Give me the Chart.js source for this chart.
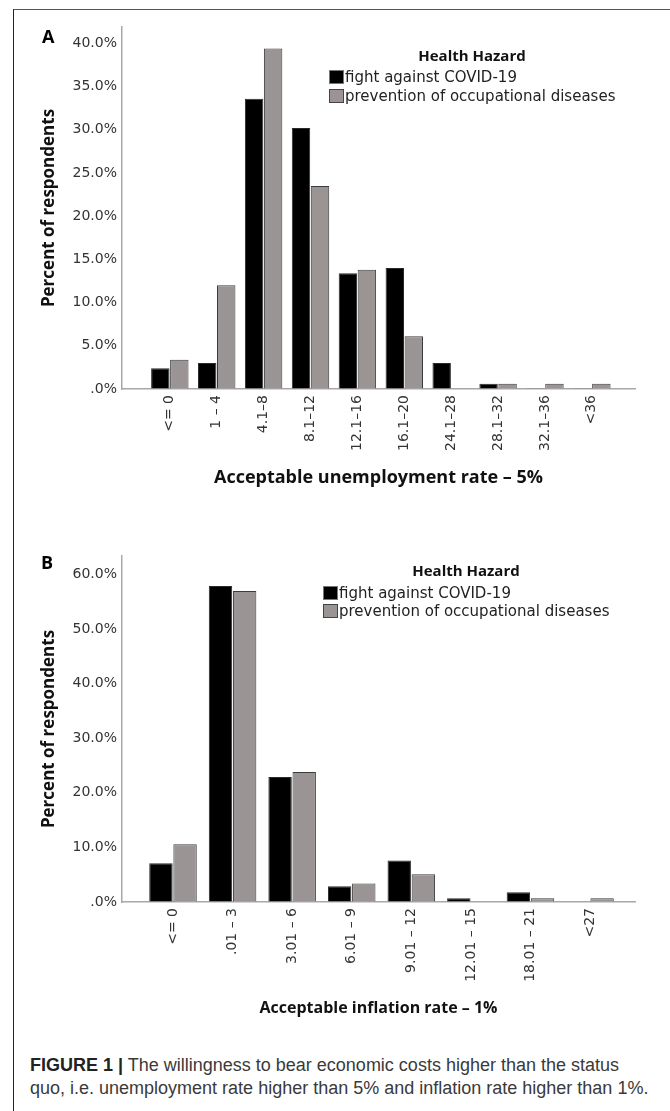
<!DOCTYPE html>
<html><head><meta charset="utf-8">
<script src="https://cdn.jsdelivr.net/npm/chart.js@4.4.1/dist/chart.umd.min.js"></script>
<style>
html,body{margin:0;padding:0;background:#fff;}
body{width:670px;height:1111px;position:relative;overflow:hidden;font-family:'Open Sans',sans-serif;}
#frame{position:absolute;left:13px;top:9px;width:700px;height:1200px;border-top:1.5px solid #555;border-left:1.5px solid #222;}
canvas{position:absolute;left:0;}
.abs{position:absolute;white-space:nowrap;}
.panel{font:bold 18px 'Open Sans',sans-serif;color:#000;line-height:18px;}
.lgTitle{font:bold 15px 'Open Sans',sans-serif;color:#111;transform:translate(-50%,-50%);}
.lgBox{width:13px;height:12px;border:1px solid #555;}
.lgText{font:15px 'DejaVu Sans',sans-serif;color:#222;transform:translateY(-50%);}
#caption{left:30px;top:1054px;font:18px 'Liberation Sans',Arial,sans-serif;color:#3a3a3a;line-height:23px;letter-spacing:0px;}
#caption b{color:#222;}
</style></head>
<body>
<div id="frame"></div>
<canvas id="cA" width="670" height="489" style="top:0;width:670px;height:489px"></canvas>
<canvas id="cB" width="670" height="498" style="top:520px;width:670px;height:498px"></canvas>
<div class="abs panel" style="left:42px;top:27px">A</div>
<div class="abs panel" style="left:41px;top:553px">B</div>
<div id="legA"></div>
<div id="legB"></div>
<div id="caption" class="abs"><b>FIGURE 1 |</b> The willingness to bear economic costs higher than the status<br>quo, i.e. unemployment rate higher than 5% and inflation rate higher than 1%.</div>
<script>
// ---- data ----
const seriesNames = ['fight against COVID-19', 'prevention of occupational diseases'];
const legendTitle = 'Health Hazard';

const categoriesA = ['<= 0', '1 – 4', '4.1–8', '8.1–12', '12.1–16', '16.1–20', '24.1–28', '28.1–32', '32.1–36', '<36'];
const covidA = [2.4, 3.0, 33.6, 30.2, 13.4, 14.0, 3.0, 0.6, 0.1, 0.1];
const occupationalA = [3.4, 12.0, 39.4, 23.5, 13.8, 6.1, 0.1, 0.6, 0.6, 0.6];
const yTickValuesA = [0, 5, 10, 15, 20, 25, 30, 35, 40];
const yTickLabelsA = ['.0%', '5.0%', '10.0%', '15.0%', '20.0%', '25.0%', '30.0%', '35.0%', '40.0%'];

const categoriesB = ['<= 0', '.01 – 3', '3.01 – 6', '6.01 – 9', '9.01 – 12', '12.01 – 15', '18.01 – 21', '<27'];
const covidB = [7.1, 57.9, 22.9, 2.9, 7.6, 0.7, 1.8, 0.1];
const occupationalB = [10.6, 57.0, 23.8, 3.4, 5.1, 0.1, 0.7, 0.7];
const yTickValuesB = [0, 10, 20, 30, 40, 50, 60];
const yTickLabelsB = ['.0%', '10.0%', '20.0%', '30.0%', '40.0%', '50.0%', '60.0%'];

const yTitle = 'Percent of respondents';
const xTitleA = 'Acceptable unemployment rate – 5%';
const xTitleB = 'Acceptable inflation rate – 1%';

// ---- styles ----
const colors = ['#000000', '#9a9494'];
const borders = ['#2a2a2a', '#3c3c3c'];
const tickFont = {family: "'DejaVu Sans', sans-serif", size: 14};
const tickColor = '#333';
const axisColor = '#a8a8a8';

function makeChart(id, cfg) {
  const canvas = document.getElementById(id);
  const ds = [cfg.s1, cfg.s2].map((vals, k) => ({
    label: seriesNames[k],
    data: vals.map((v, i) => ({x: i, y: v})),
    backgroundColor: colors[k],
    borderColor: borders[k],
    borderWidth: 1,
    categoryPercentage: 0.81,
    barPercentage: 0.97
  }));
  return new Chart(canvas, {
    type: 'bar',
    data: {datasets: ds},
    options: {
      responsive: false,
      animation: false,
      devicePixelRatio: 1,
      layout: {padding: {left: 39, right: 35, top: cfg.padTop, bottom: 0}},
      plugins: {legend: {display: false}, tooltip: {enabled: false}},
      scales: {
        x: {
          type: 'linear',
          min: cfg.xMin, max: cfg.xMax,
          offset: false,
          grid: {display: true, drawOnChartArea: false, drawTicks: false},
          border: {display: true, color: axisColor, width: 1.5},
          afterBuildTicks: s => { s.ticks = cfg.cats.map((_, i) => ({value: i})); },
          afterFit: s => { s.height = cfg.xAxisH; },
          ticks: {
            autoSkip: false, minRotation: 90, maxRotation: 90, padding: 6,
            font: tickFont, color: tickColor,
            callback: v => cfg.cats[v]
          },
          title: {display: true, text: cfg.xTitle, padding: {top: 0, bottom: 0},
                  font: {family: "'Open Sans', sans-serif", size: cfg.xTitleSize, weight: 'bold'}, color: '#111'}
        },
        y: {
          min: 0, max: cfg.yMax,
          grid: {display: true, drawOnChartArea: false, drawTicks: false},
          border: {display: true, color: axisColor, width: 1.5},
          afterBuildTicks: s => { s.ticks = cfg.yVals.map(v => ({value: v})); },
          afterFit: s => { s.width = 83; },
          ticks: {
            padding: 5, font: tickFont, color: tickColor,
            callback: v => cfg.yLabs[cfg.yVals.indexOf(v)]
          },
          title: {display: true, text: yTitle, padding: {top: 0, bottom: 0},
                  font: {family: "'Open Sans', sans-serif", size: 17, weight: 'bold'}, color: '#111'}
        }
      }
    }
  });
}

makeChart('cA', {cats: categoriesA, s1: covidA, s2: occupationalA, xMin: -1.02, xMax: 9.92,
  yMax: 41.9, yVals: yTickValuesA, yLabs: yTickLabelsA, padTop: 27, xAxisH: 100,
  xTitle: xTitleA, xTitleSize: 18});
makeChart('cB', {cats: categoriesB, s1: covidB, s2: occupationalB, xMin: -0.856, xMax: 7.755,
  yMax: 63.4, yVals: yTickValuesB, yLabs: yTickLabelsB, padTop: 36, xAxisH: 116,
  xTitle: xTitleB, xTitleSize: 16});

function legend(id, pos) {
  const el = document.getElementById(id);
  let html = `<div class="abs lgTitle" style="left:${pos.titleX}px;top:${pos.titleY}px">${legendTitle}</div>`;
  seriesNames.forEach((n, k) => {
    const y = pos.rowY + k * pos.rowH;
    html += `<div class="abs lgBox" style="left:${pos.boxX}px;top:${y - 7}px;background:${colors[k]};border-color:${k ? '#444' : '#777'}"></div>`;
    html += `<div class="abs lgText" style="left:${pos.boxX + 16}px;top:${y}px">${n}</div>`;
  });
  el.innerHTML = html;
}
legend('legA', {titleX: 472, titleY: 55, boxX: 329, rowY: 77, rowH: 19});
legend('legB', {titleX: 466, titleY: 570, boxX: 323, rowY: 593, rowH: 18});
</script>
</body></html>
